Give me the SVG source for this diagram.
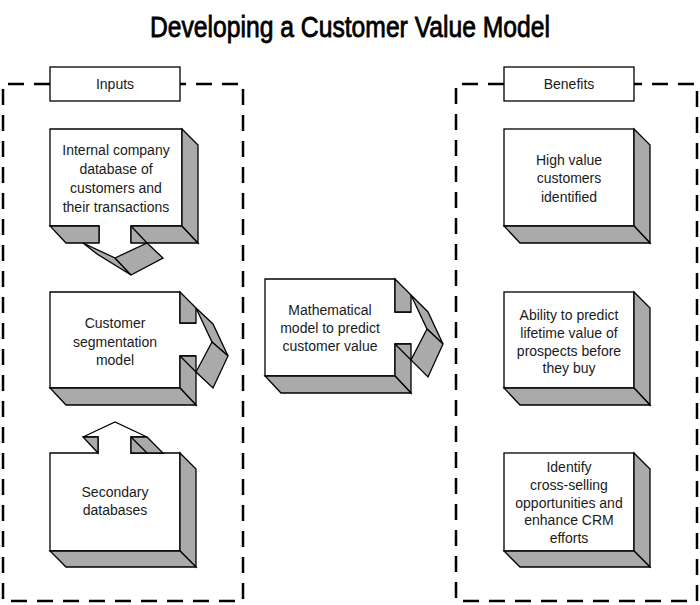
<svg xmlns="http://www.w3.org/2000/svg" width="700" height="605" viewBox="0 0 700 605">
<style>
.face{fill:#fff;stroke:#000;stroke-width:1.3;stroke-linejoin:miter}
.sh{fill:#aaa;stroke:#000;stroke-width:1.3;stroke-linejoin:miter}
.ln{fill:none;stroke:#000;stroke-width:1.3}
.dash{fill:none;stroke:#000;stroke-width:2.5;stroke-dasharray:16 10}
.lbl{fill:#fff;stroke:#000;stroke-width:1.3}
text{font-family:"Liberation Sans",Arial,sans-serif;font-size:14px;fill:#1a1a1a;text-anchor:middle}
.title{font-size:29px;fill:#000;stroke:#000;stroke-width:0.8}
</style>
<rect width="700" height="605" fill="#fff"/>
<text class="title" x="350" y="37" textLength="400" lengthAdjust="spacingAndGlyphs">Developing a Customer Value Model</text>

<g id="connectors">
<path class="dash" d="M50,84 H3 V601 H243 V84 H180"/>
<path class="dash" d="M504,84 H456 V601 H697 V84 H634"/>
</g>

<g id="inputs-label">
<rect class="lbl" x="50" y="67" width="130" height="34"/>
<text x="115" y="89">Inputs</text>
</g>
<g id="benefits-label">
<rect class="lbl" x="504" y="67" width="130" height="34"/>
<text x="569" y="89">Benefits</text>
</g>

<g id="input1">
<path class="face" d="M99,243 V226 H50 V129 H182 V226 H131 V243"/>
<polygon class="sh" points="50,226 99,226 99,243 66,243"/>
<polygon class="sh" points="131,226 182,226 198,243 131,243"/>
<line class="ln" x1="131" y1="226" x2="147" y2="243"/>
<polygon class="sh" points="182,129 198,145 198,243 182,226"/>
<polygon class="sh" points="83,243 115,258 131,275 97,254"/>
<polygon class="sh" points="115,258 147,243 163,258 131,275"/>
<text x="116" y="155">Internal company</text>
<text x="116" y="174">database of</text>
<text x="116" y="193">customers and</text>
<text x="116" y="212">their transactions</text>
</g>

<g id="input2">
<path class="face" d="M196,323 H180 V292 H50 V388 H180 V356 H196"/>
<polygon class="sh" points="180,292 196,308 196,323 180,323"/>
<polygon class="sh" points="180,356 196,356 196,405 180,388"/>
<line class="ln" x1="180" y1="356" x2="196" y2="372"/>
<polygon class="sh" points="50,388 180,388 196,405 66,405"/>
<polygon class="sh" points="196,308 213,324 228,356 212,342"/>
<polygon class="sh" points="212,342 228,356 213,388 196,372"/>
<text x="115" y="328">Customer</text>
<text x="115" y="347">segmentation</text>
<text x="115" y="365">model</text>
</g>

<g id="input3">
<polygon class="face" points="50,453 98,453 98,437 83,437 115,422 147,437 131,437 131,453 180,453 180,551 50,551"/>
<polygon class="sh" points="83,437 98,437 98,453"/>
<polygon class="sh" points="131,437 147,437 163,453 131,453"/>
<line class="ln" x1="131" y1="437" x2="147" y2="453"/>
<polygon class="sh" points="180,453 196,469 196,567 180,551"/>
<polygon class="sh" points="50,551 180,551 196,567 66,567"/>
<text x="115" y="497">Secondary</text>
<text x="115" y="515">databases</text>
</g>

<g id="model">
<path class="face" d="M411,312 H395 V279 H265 V376 H395 V344 H411"/>
<polygon class="sh" points="395,279 411,295 411,312 395,312"/>
<polygon class="sh" points="395,344 411,344 411,393 395,376"/>
<line class="ln" x1="395" y1="344" x2="411" y2="360"/>
<polygon class="sh" points="265,376 395,376 411,393 281,393"/>
<polygon class="sh" points="411,295 428,312 443,344 427,329"/>
<polygon class="sh" points="427,329 443,344 428,377 411,360"/>
<text x="330" y="315">Mathematical</text>
<text x="330" y="333">model to predict</text>
<text x="330" y="351">customer value</text>
</g>

<g id="benefit1">
<rect class="face" x="504" y="129" width="130" height="97"/>
<polygon class="sh" points="634,129 650,145 650,243 634,226"/>
<polygon class="sh" points="504,226 634,226 650,243 520,243"/>
<text x="569" y="165">High value</text>
<text x="569" y="183">customers</text>
<text x="569" y="202">identified</text>
</g>

<g id="benefit2">
<rect class="face" x="504" y="292" width="130" height="96"/>
<polygon class="sh" points="634,292 650,308 650,405 634,388"/>
<polygon class="sh" points="504,388 634,388 650,405 520,405"/>
<text x="569" y="320">Ability to predict</text>
<text x="569" y="338">lifetime value of</text>
<text x="569" y="356">prospects before</text>
<text x="569" y="373">they buy</text>
</g>

<g id="benefit3">
<rect class="face" x="504" y="453" width="130" height="98"/>
<polygon class="sh" points="634,453 650,469 650,567 634,551"/>
<polygon class="sh" points="504,551 634,551 650,567 520,567"/>
<text x="569" y="472">Identify</text>
<text x="569" y="490">cross-selling</text>
<text x="569" y="508">opportunities and</text>
<text x="569" y="525">enhance CRM</text>
<text x="569" y="543">efforts</text>
</g>
</svg>
